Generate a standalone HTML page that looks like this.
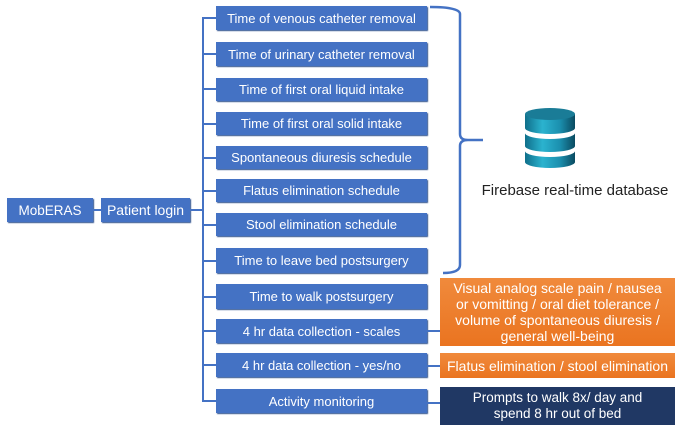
<!DOCTYPE html>
<html><head><style>
body{margin:0;width:682px;height:431px;background:#fff;position:relative;overflow:hidden;font-family:"Liberation Sans",sans-serif}
.b{position:absolute;background:#4472c4;color:#fff;font-size:13px;display:flex;align-items:center;justify-content:center;text-align:center;box-shadow:1px 1px 1px #2f528f;white-space:nowrap}
.o{position:absolute;background:linear-gradient(#f08a3c,#ea7420);color:#fff;font-size:14px;display:flex;align-items:center;justify-content:center;text-align:center;line-height:16px}
.l{position:absolute;background:#4472c4}
</style></head><body>
<div class="b" style="left:7px;top:198px;width:86px;height:24px;font-size:13.5px">MobERAS</div>
<div class="b" style="left:101px;top:198px;width:89px;height:24px;font-size:14px">Patient login</div>
<div class="l" style="left:93px;top:209px;width:8px;height:2px"></div>
<div class="l" style="left:190px;top:209px;width:13px;height:2px"></div>
<div class="l" style="left:202px;top:17px;width:2px;height:385px"></div>

<div class="b" style="left:216px;top:6px;width:211px;height:24px">Time of venous catheter removal</div>
<div class="b" style="left:216px;top:42px;width:211px;height:24px">Time of urinary catheter removal</div>
<div class="b" style="left:216px;top:78px;width:211px;height:23px">Time of first oral liquid intake</div>
<div class="b" style="left:216px;top:112px;width:211px;height:23px">Time of first oral solid intake</div>
<div class="b" style="left:216px;top:146px;width:211px;height:23px">Spontaneous diuresis schedule</div>
<div class="b" style="left:216px;top:179px;width:211px;height:23px">Flatus elimination schedule</div>
<div class="b" style="left:216px;top:213px;width:211px;height:23px">Stool elimination schedule</div>
<div class="b" style="left:216px;top:248px;width:211px;height:25px">Time to leave bed postsurgery</div>
<div class="b" style="left:216px;top:284px;width:211px;height:25px">Time to walk postsurgery</div>
<div class="b" style="left:216px;top:319px;width:211px;height:24px">4 hr data collection - scales</div>
<div class="b" style="left:216px;top:353px;width:211px;height:24px">4 hr data collection - yes/no</div>
<div class="b" style="left:216px;top:389px;width:211px;height:24px">Activity monitoring</div>

<div class="l" style="left:202px;top:17px;width:14px;height:2px"></div>
<div class="l" style="left:202px;top:53px;width:14px;height:2px"></div>
<div class="l" style="left:202px;top:88px;width:14px;height:2px"></div>
<div class="l" style="left:202px;top:123px;width:14px;height:2px"></div>
<div class="l" style="left:202px;top:157px;width:14px;height:2px"></div>
<div class="l" style="left:202px;top:190px;width:14px;height:2px"></div>
<div class="l" style="left:202px;top:224px;width:14px;height:2px"></div>
<div class="l" style="left:202px;top:260px;width:14px;height:2px"></div>
<div class="l" style="left:202px;top:296px;width:14px;height:2px"></div>
<div class="l" style="left:202px;top:330px;width:14px;height:2px"></div>
<div class="l" style="left:202px;top:364px;width:14px;height:2px"></div>
<div class="l" style="left:202px;top:400px;width:14px;height:2px"></div>

<div class="l" style="left:427px;top:330px;width:13px;height:2px"></div>
<div class="l" style="left:427px;top:365px;width:13px;height:2px"></div>
<div class="l" style="left:427px;top:402px;width:13px;height:2px"></div>

<div class="o" style="left:440px;top:278px;width:235px;height:68px">Visual analog scale pain / nausea<br>or vomitting / oral diet tolerance /<br>volume of spontaneous diuresis /<br>general well-being</div>
<div class="o" style="left:440px;top:353px;width:235px;height:25px">Flatus elimination / stool elimination</div>
<div class="o" style="left:440px;top:387px;width:235px;height:38px;background:#203864;font-size:13.5px">Prompts to walk 8x/ day and<br>spend 8 hr out of bed</div>

<svg style="position:absolute;left:0;top:0" width="682" height="431">
<path d="M430 7 Q460 7 460 14 L460 134 Q460 140 468 140 L483 140 M468 140 Q460 140 460 146 L460 265 Q460 273 443 273" fill="none" stroke="#4472c4" stroke-width="2.5"/>
<defs><linearGradient id="g" x1="0" x2="1"><stop offset="0" stop-color="#0f6f8a"/><stop offset=".35" stop-color="#2bb3cf"/><stop offset=".7" stop-color="#1b8fae"/><stop offset="1" stop-color="#0a4a60"/></linearGradient></defs>
<g fill="url(#g)">
<path d="M525 151 L525 162 A25 6 0 0 0 575 162 L575 151 A25 6 0 0 1 525 151Z"/>
<path d="M525 133 L525 146 A25 6 0 0 0 575 146 L575 133 A25 6 0 0 1 525 133Z"/>
<path d="M525 114 L525 128 A25 6 0 0 0 575 128 L575 114Z"/>
<ellipse cx="550" cy="114" rx="25" ry="6" fill="#1a7c97"/>
</g>
<text x="575" y="195" text-anchor="middle" font-family="Liberation Sans" font-size="15" fill="#222">Firebase real-time database</text>
</svg>
</body></html>
